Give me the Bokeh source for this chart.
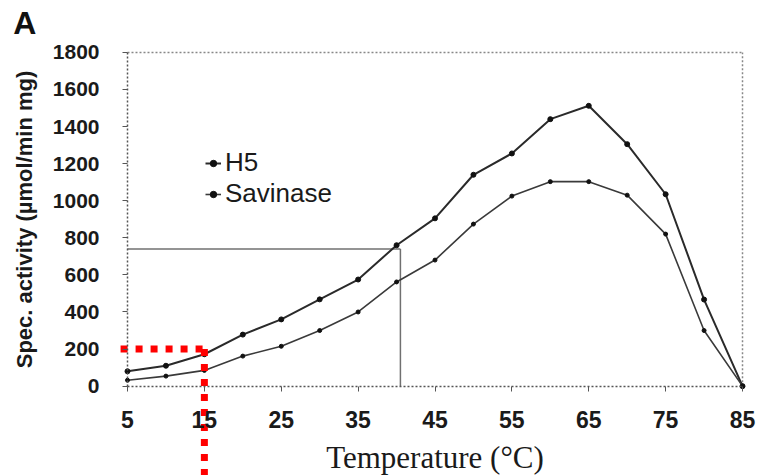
from bokeh.plotting import figure
from bokeh.models import (Range1d, FixedTicker, Legend, LegendItem,
                          ColumnDataSource, Label)
from bokeh.embed import file_html
from bokeh.resources import INLINE

# ---- data ----
temperature = [5, 10, 15, 20, 25, 30, 35, 40, 45, 50, 55, 60, 65, 70, 75, 80, 85]
h5_activity = [80, 110, 172, 278, 360, 468, 575, 760, 905, 1140, 1255, 1440,
               1512, 1305, 1035, 467, 0]
savinase_activity = [32, 54, 85, 162, 215, 300, 400, 562, 680, 874, 1025, 1103,
                     1103, 1030, 820, 300, 0]

x_ticks = [5, 15, 25, 35, 45, 55, 65, 75, 85]
y_ticks = [0, 200, 400, 600, 800, 1000, 1200, 1400, 1600, 1800]

# reference guide lines
grey_guide_temp = 40.5
grey_guide_activity = 740
red_guide_temp = 15
red_guide_activity = 200

SANS = "Liberation Sans"
SERIF = "Liberation Serif"

X_MIN, X_MAX = 5, 85
Y_MIN, Y_MAX = 0, 1800

# the frame covers the whole canvas so the guide can run past the axes
p = figure(width=758, height=475, output_backend="svg", toolbar_location=None,
           x_range=Range1d(-11.52, 87.08), y_range=Range1d(-482, 2080),
           min_border_left=0, min_border_right=0, min_border_top=0,
           min_border_bottom=0)
p.title.visible = False
p.background_fill_color = "white"
p.border_fill_color = "white"
p.outline_line_color = None
p.grid.visible = False

# axes, pinned at the data origin
p.xaxis.ticker = FixedTicker(ticks=x_ticks)
p.yaxis.ticker = FixedTicker(ticks=y_ticks)
p.xaxis.bounds = (X_MIN, X_MAX)
p.yaxis.bounds = (Y_MIN, Y_MAX)
p.xaxis.fixed_location = Y_MIN
p.yaxis.fixed_location = X_MIN
p.xaxis.minor_tick_line_color = None
p.yaxis.minor_tick_line_color = None
for ax in (p.xaxis[0], p.yaxis[0]):
    ax.axis_line_color = "#555555"
    ax.axis_line_dash = "2 2"
    ax.axis_line_width = 1.5
    ax.major_tick_line_color = "#555555"
    ax.major_tick_in = 0
    ax.major_tick_out = 5
    ax.major_label_text_font = SANS
    ax.major_label_text_font_style = "bold"
    ax.major_label_text_color = "#1a1a1a"

p.yaxis.major_label_text_font_size = "21px"
p.yaxis.major_label_standoff = 23
p.xaxis.major_label_text_font_size = "23px"
p.xaxis.major_label_standoff = 20

p.xaxis.axis_label = "Temperature (\u00b0C)"
p.xaxis.axis_label_text_font = SERIF
p.xaxis.axis_label_text_font_style = "normal"
p.xaxis.axis_label_text_font_size = "31px"
p.xaxis.axis_label_text_color = "#1a1a1a"
p.xaxis.axis_label_standoff = 8

p.yaxis.axis_label = "Spec. activity (\u00b5mol/min mg)"
p.yaxis.axis_label_text_font = SANS
p.yaxis.axis_label_text_font_style = "bold"
p.yaxis.axis_label_text_font_size = "22px"
p.yaxis.axis_label_text_color = "#1a1a1a"
p.yaxis.axis_label_standoff = 13

# panel letter, top-left corner
p.add_layout(Label(x=-9.85, y=1957, text="A", text_font=SANS,
                   text_font_style="bold", text_font_size="32px",
                   text_color="#111111", text_baseline="alphabetic",
                   text_align="left"))

# dotted frame (top and right)
p.segment(x0=[X_MIN, X_MAX], y0=[Y_MAX, Y_MIN], x1=[X_MAX, X_MAX], y1=[Y_MAX, Y_MAX],
          line_color="#888888", line_dash="2 2", line_width=1.5)

# grey guide lines
p.segment(x0=[X_MIN, grey_guide_temp], y0=[grey_guide_activity, grey_guide_activity],
          x1=[grey_guide_temp, grey_guide_temp], y1=[grey_guide_activity, Y_MIN],
          line_color="#707070", line_width=1.5)

src = ColumnDataSource(dict(t=temperature, h5=h5_activity, sav=savinase_activity))
l1 = p.line("t", "h5", source=src, line_color="#2a2a2a", line_width=2)
m1 = p.scatter("t", "h5", source=src, marker="circle", size=5,
               fill_color="#111111", line_color="#111111")
l2 = p.line("t", "sav", source=src, line_color="#3a3a3a", line_width=1.6)
m2 = p.scatter("t", "sav", source=src, marker="circle", size=4,
               fill_color="#111111", line_color="#111111")

legend = Legend(items=[LegendItem(label="H5", renderers=[l1, m1]),
                       LegendItem(label="Savinase", renderers=[l2, m2])],
                location=(205, 266), orientation="vertical",
                background_fill_alpha=0, border_line_color=None,
                label_text_font=SANS, label_text_font_size="26px",
                label_text_color="#1a1a1a", glyph_width=16, glyph_height=20,
                label_height=20, label_standoff=4, spacing=0, padding=0, margin=0)
p.add_layout(legend)

# red dotted guide, running down past the axis to the page edge
p.segment(x0=[4.1, red_guide_temp], y0=[red_guide_activity, red_guide_activity],
          x1=[red_guide_temp, red_guide_temp], y1=[red_guide_activity, -482],
          line_color="#ff0000", line_width=7, line_dash="7 8")

open("out.html", "w").write(file_html(p, INLINE))
